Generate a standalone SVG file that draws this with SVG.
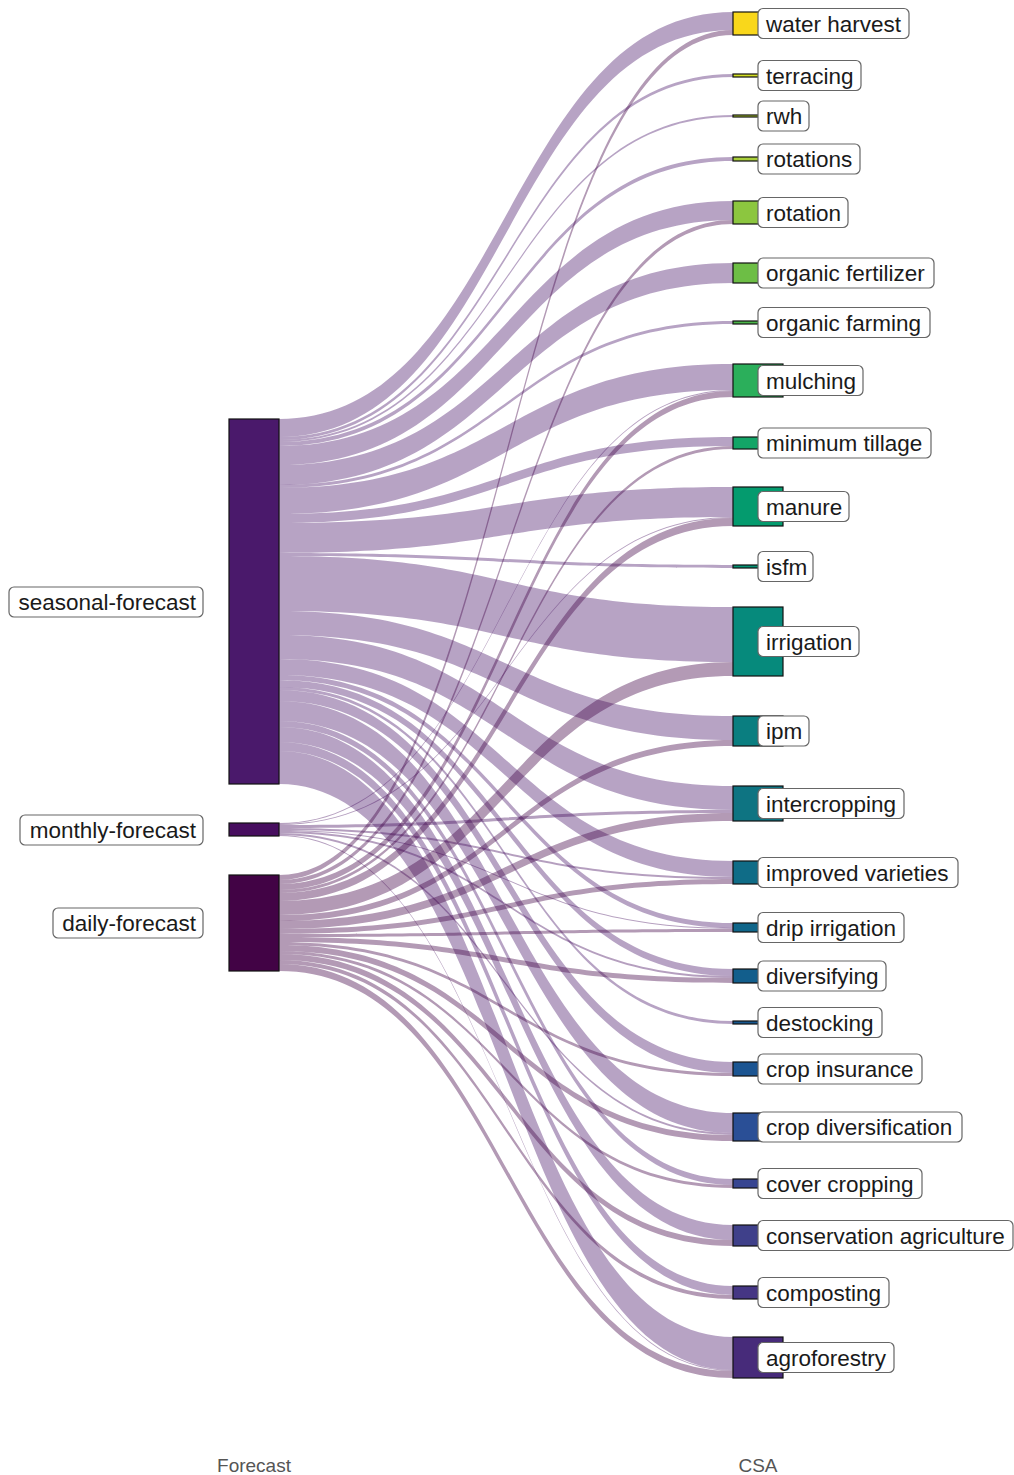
<svg xmlns="http://www.w3.org/2000/svg" width="1014" height="1475" viewBox="0 0 1014 1475">
<style>
.fs{fill:#4A196B;fill-opacity:0.4}
.fm{fill:#470E5F;fill-opacity:0.4}
.fd{fill:#420345;fill-opacity:0.4}
.node rect.n{stroke:#111;stroke-width:1.2}
.lb{fill:#fff;stroke:#666;stroke-width:1.2}
.t{font-family:"Liberation Sans",Arial,sans-serif;font-size:22.5px;fill:#1a1a1a}
.ax{font-family:"Liberation Sans",Arial,sans-serif;font-size:19px;fill:#555}
</style>
<rect width="1014" height="1475" fill="#fff"/>
<g id="connectors">
<path class="fs" d="M279,419C506,419 506,12 733,12L733,30C506,30 506,437 279,437Z"/>
<path class="fs" d="M279,437C506,437 506,74 733,74L733,77C506,77 506,440 279,440Z"/>
<path class="fs" d="M279,440C506,440 506,115 733,115L733,117C506,117 506,442 279,442Z"/>
<path class="fs" d="M279,442C506,442 506,157 733,157L733,161C506,161 506,446 279,446Z"/>
<path class="fs" d="M279,446C506,446 506,201 733,201L733,220C506,220 506,465 279,465Z"/>
<path class="fs" d="M279,465C506,465 506,263 733,263L733,283C506,283 506,485 279,485Z"/>
<path class="fs" d="M279,485C506,485 506,321 733,321L733,324C506,324 506,488 279,488Z"/>
<path class="fs" d="M279,488C506,488 506,364 733,364L733,390C506,390 506,514 279,514Z"/>
<path class="fs" d="M279,514C506,514 506,437 733,437L733,446C506,446 506,523 279,523Z"/>
<path class="fs" d="M279,523C506,523 506,487 733,487L733,517C506,517 506,553 279,553Z"/>
<path class="fs" d="M279,553C506,553 506,565 733,565L733,568C506,568 506,556 279,556Z"/>
<path class="fs" d="M279,556C506,556 506,607 733,607L733,662C506,662 506,611 279,611Z"/>
<path class="fs" d="M279,611C506,611 506,716 733,716L733,740C506,740 506,635 279,635Z"/>
<path class="fs" d="M279,635C506,635 506,786 733,786L733,810C506,810 506,659 279,659Z"/>
<path class="fs" d="M279,659C506,659 506,861 733,861L733,877C506,877 506,675 279,675Z"/>
<path class="fs" d="M279,675C506,675 506,923 733,923L733,928C506,928 506,680 279,680Z"/>
<path class="fs" d="M279,680C506,680 506,969 733,969L733,976C506,976 506,687 279,687Z"/>
<path class="fs" d="M279,687C506,687 506,1021 733,1021L733,1024C506,1024 506,690 279,690Z"/>
<path class="fs" d="M279,690C506,690 506,1062 733,1062L733,1073C506,1073 506,701 279,701Z"/>
<path class="fs" d="M279,701C506,701 506,1113 733,1113L733,1133C506,1133 506,721 279,721Z"/>
<path class="fs" d="M279,721C506,721 506,1179 733,1179L733,1185C506,1185 506,727 279,727Z"/>
<path class="fs" d="M279,727C506,727 506,1225 733,1225L733,1240C506,1240 506,742 279,742Z"/>
<path class="fs" d="M279,742C506,742 506,1286 733,1286L733,1295C506,1295 506,751 279,751Z"/>
<path class="fs" d="M279,751C506,751 506,1337 733,1337L733,1370C506,1370 506,784 279,784Z"/>
<path class="fm" d="M279,823C506,823 506,390 733,390L733,391C506,391 506,824 279,824Z"/>
<path class="fm" d="M279,824C506,824 506,517 733,517L733,518C506,518 506,825 279,825Z"/>
<path class="fm" d="M279,825C506,825 506,810 733,810L733,813C506,813 506,828 279,828Z"/>
<path class="fm" d="M279,828C506,828 506,877 733,877L733,879C506,879 506,830 279,830Z"/>
<path class="fm" d="M279,830C506,830 506,928 733,928L733,929C506,929 506,831 279,831Z"/>
<path class="fm" d="M279,831C506,831 506,976 733,976L733,978C506,978 506,833 279,833Z"/>
<path class="fm" d="M279,833C506,833 506,1133 733,1133L733,1135C506,1135 506,835 279,835Z"/>
<path class="fm" d="M279,835C506,835 506,1370 733,1370L733,1371C506,1371 506,836 279,836Z"/>
<path class="fd" d="M279,875C506,875 506,30 733,30L733,35C506,35 506,880 279,880Z"/>
<path class="fd" d="M279,880C506,880 506,220 733,220L733,224C506,224 506,884 279,884Z"/>
<path class="fd" d="M279,884C506,884 506,391 733,391L733,397C506,397 506,890 279,890Z"/>
<path class="fd" d="M279,890C506,890 506,446 733,446L733,449C506,449 506,893 279,893Z"/>
<path class="fd" d="M279,893C506,893 506,518 733,518L733,526C506,526 506,901 279,901Z"/>
<path class="fd" d="M279,901C506,901 506,662 733,662L733,676C506,676 506,915 279,915Z"/>
<path class="fd" d="M279,915C506,915 506,740 733,740L733,746C506,746 506,921 279,921Z"/>
<path class="fd" d="M279,921C506,921 506,813 733,813L733,821C506,821 506,929 279,929Z"/>
<path class="fd" d="M279,929C506,929 506,879 733,879L733,884C506,884 506,934 279,934Z"/>
<path class="fd" d="M279,934C506,934 506,929 733,929L733,932C506,932 506,937 279,937Z"/>
<path class="fd" d="M279,937C506,937 506,978 733,978L733,983C506,983 506,942 279,942Z"/>
<path class="fd" d="M279,942C506,942 506,1073 733,1073L733,1076C506,1076 506,945 279,945Z"/>
<path class="fd" d="M279,945C506,945 506,1135 733,1135L733,1141C506,1141 506,951 279,951Z"/>
<path class="fd" d="M279,951C506,951 506,1185 733,1185L733,1188C506,1188 506,954 279,954Z"/>
<path class="fd" d="M279,954C506,954 506,1240 733,1240L733,1246C506,1246 506,960 279,960Z"/>
<path class="fd" d="M279,960C506,960 506,1295 733,1295L733,1299C506,1299 506,964 279,964Z"/>
<path class="fd" d="M279,964C506,964 506,1371 733,1371L733,1378C506,1378 506,971 279,971Z"/>
</g>
<g id="seasonal-forecast" class="node"><rect class="n" x="229" y="419" width="50" height="365" fill="#4A196B"/><rect class="lb" x="9" y="587" width="194" height="30" rx="5"/><text class="t" x="196" y="610" text-anchor="end">seasonal-forecast</text></g>
<g id="monthly-forecast" class="node"><rect class="n" x="229" y="823" width="50" height="13" fill="#470E5F"/><rect class="lb" x="20" y="815" width="183" height="30" rx="5"/><text class="t" x="196" y="838" text-anchor="end">monthly-forecast</text></g>
<g id="daily-forecast" class="node"><rect class="n" x="229" y="875" width="50" height="96" fill="#420345"/><rect class="lb" x="53" y="908" width="150" height="30" rx="5"/><text class="t" x="196" y="931" text-anchor="end">daily-forecast</text></g>
<g id="water-harvest" class="node"><rect class="n" x="733" y="12" width="50" height="23" fill="#F9D71B"/><rect class="lb" x="758" y="8.5" width="151" height="30" rx="5"/><text class="t" x="766" y="31.5">water harvest</text></g>
<g id="terracing" class="node"><rect class="n" x="733" y="74" width="50" height="3" fill="#D2DD23"/><rect class="lb" x="758" y="60.5" width="103" height="30" rx="5"/><text class="t" x="766" y="83.5">terracing</text></g>
<g id="rwh" class="node"><rect class="n" x="733" y="115" width="50" height="2" fill="#B8D72D"/><rect class="lb" x="758" y="101" width="51" height="30" rx="5"/><text class="t" x="766" y="124">rwh</text></g>
<g id="rotations" class="node"><rect class="n" x="733" y="157" width="50" height="4" fill="#A9CF3A"/><rect class="lb" x="758" y="144" width="102" height="30" rx="5"/><text class="t" x="766" y="167">rotations</text></g>
<g id="rotation" class="node"><rect class="n" x="733" y="201" width="50" height="23" fill="#8CC63F"/><rect class="lb" x="758" y="197.5" width="90" height="30" rx="5"/><text class="t" x="766" y="220.5">rotation</text></g>
<g id="organic-fertilizer" class="node"><rect class="n" x="733" y="263" width="50" height="20" fill="#6DBE45"/><rect class="lb" x="758" y="258" width="176" height="30" rx="5"/><text class="t" x="766" y="281">organic fertilizer</text></g>
<g id="organic-farming" class="node"><rect class="n" x="733" y="321" width="50" height="3" fill="#4BB549"/><rect class="lb" x="758" y="307.5" width="172" height="30" rx="5"/><text class="t" x="766" y="330.5">organic farming</text></g>
<g id="mulching" class="node"><rect class="n" x="733" y="364" width="50" height="33" fill="#2BAF5B"/><rect class="lb" x="758" y="365.5" width="105" height="30" rx="5"/><text class="t" x="766" y="388.5">mulching</text></g>
<g id="minimum-tillage" class="node"><rect class="n" x="733" y="437" width="50" height="12" fill="#13A567"/><rect class="lb" x="758" y="428" width="173" height="30" rx="5"/><text class="t" x="766" y="451">minimum tillage</text></g>
<g id="manure" class="node"><rect class="n" x="733" y="487" width="50" height="39" fill="#049B6E"/><rect class="lb" x="758" y="491.5" width="91" height="30" rx="5"/><text class="t" x="766" y="514.5">manure</text></g>
<g id="isfm" class="node"><rect class="n" x="733" y="565" width="50" height="3" fill="#039273"/><rect class="lb" x="758" y="551.5" width="55" height="30" rx="5"/><text class="t" x="766" y="574.5">isfm</text></g>
<g id="irrigation" class="node"><rect class="n" x="733" y="607" width="50" height="69" fill="#068A7C"/><rect class="lb" x="758" y="626.5" width="101" height="30" rx="5"/><text class="t" x="766" y="649.5">irrigation</text></g>
<g id="ipm" class="node"><rect class="n" x="733" y="716" width="50" height="30" fill="#0A7E80"/><rect class="lb" x="758" y="716" width="51" height="30" rx="5"/><text class="t" x="766" y="739">ipm</text></g>
<g id="intercropping" class="node"><rect class="n" x="733" y="786" width="50" height="35" fill="#0E7482"/><rect class="lb" x="758" y="788.5" width="146" height="30" rx="5"/><text class="t" x="766" y="811.5">intercropping</text></g>
<g id="improved-varieties" class="node"><rect class="n" x="733" y="861" width="50" height="23" fill="#0F6C87"/><rect class="lb" x="758" y="857.5" width="200" height="30" rx="5"/><text class="t" x="766" y="880.5">improved varieties</text></g>
<g id="drip-irrigation" class="node"><rect class="n" x="733" y="923" width="50" height="9" fill="#10668A"/><rect class="lb" x="758" y="912.5" width="146" height="30" rx="5"/><text class="t" x="766" y="935.5">drip irrigation</text></g>
<g id="diversifying" class="node"><rect class="n" x="733" y="969" width="50" height="14" fill="#125E8C"/><rect class="lb" x="758" y="961" width="128" height="30" rx="5"/><text class="t" x="766" y="984">diversifying</text></g>
<g id="destocking" class="node"><rect class="n" x="733" y="1021" width="50" height="3" fill="#17578F"/><rect class="lb" x="758" y="1007.5" width="124" height="30" rx="5"/><text class="t" x="766" y="1030.5">destocking</text></g>
<g id="crop-insurance" class="node"><rect class="n" x="733" y="1062" width="50" height="14" fill="#1C5592"/><rect class="lb" x="758" y="1054" width="164" height="30" rx="5"/><text class="t" x="766" y="1077">crop insurance</text></g>
<g id="crop-diversification" class="node"><rect class="n" x="733" y="1113" width="50" height="28" fill="#2A4F96"/><rect class="lb" x="758" y="1112" width="204" height="30" rx="5"/><text class="t" x="766" y="1135">crop diversification</text></g>
<g id="cover-cropping" class="node"><rect class="n" x="733" y="1179" width="50" height="9" fill="#374591"/><rect class="lb" x="758" y="1168.5" width="164" height="30" rx="5"/><text class="t" x="766" y="1191.5">cover cropping</text></g>
<g id="conservation-agriculture" class="node"><rect class="n" x="733" y="1225" width="50" height="21" fill="#3F408A"/><rect class="lb" x="758" y="1220.5" width="255" height="30" rx="5"/><text class="t" x="766" y="1243.5">conservation agriculture</text></g>
<g id="composting" class="node"><rect class="n" x="733" y="1286" width="50" height="13" fill="#453684"/><rect class="lb" x="758" y="1277.5" width="131" height="30" rx="5"/><text class="t" x="766" y="1300.5">composting</text></g>
<g id="agroforestry" class="node"><rect class="n" x="733" y="1337" width="50" height="41" fill="#472B7A"/><rect class="lb" x="758" y="1342.5" width="136" height="30" rx="5"/><text class="t" x="766" y="1365.5">agroforestry</text></g>
<g id="axis-labels">
<text class="ax" x="254" y="1472" text-anchor="middle">Forecast</text>
<text class="ax" x="758" y="1472" text-anchor="middle">CSA</text>
</g>
</svg>
